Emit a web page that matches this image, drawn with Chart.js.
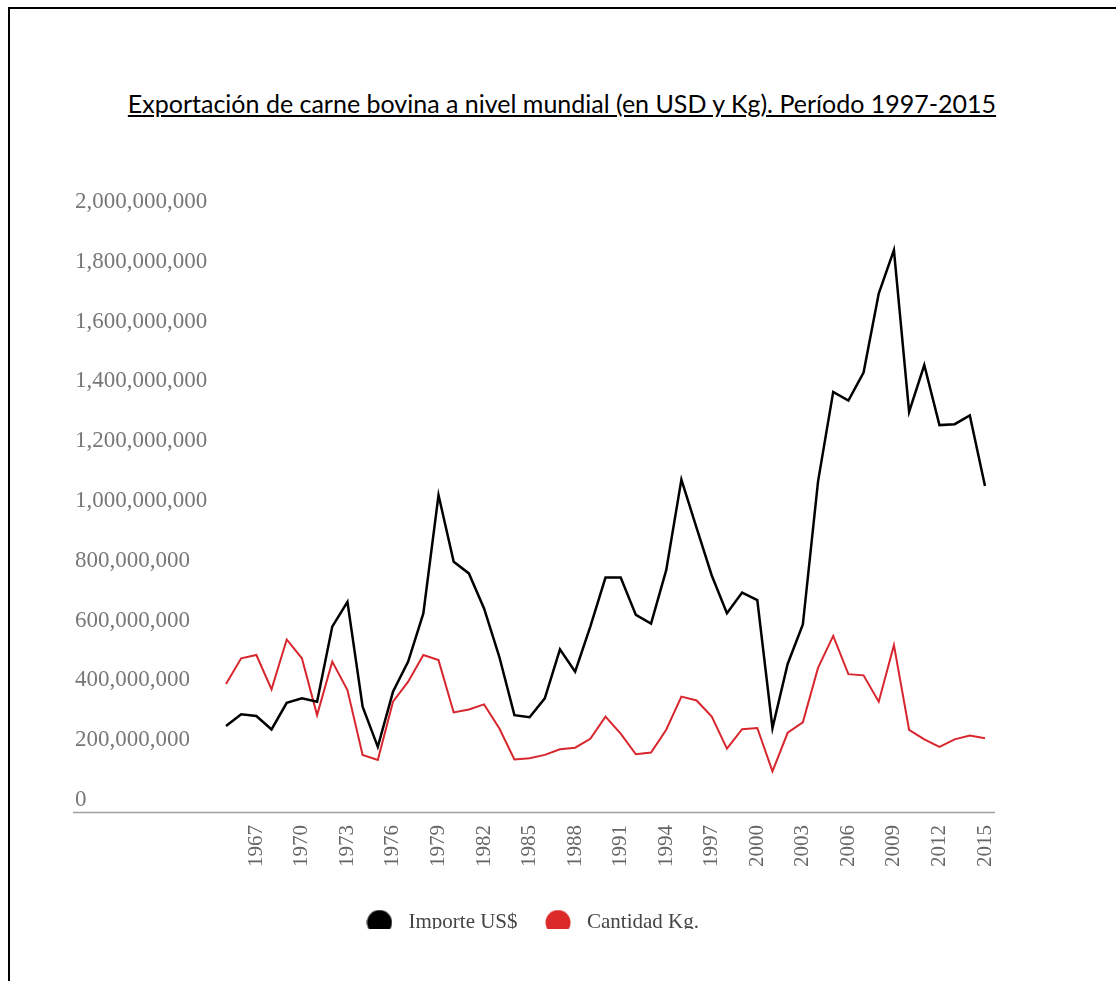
<!DOCTYPE html>
<html>
<head>
<meta charset="utf-8">
<script src="https://cdn.jsdelivr.net/npm/chart.js@4.4.1/dist/chart.umd.min.js"></script>
<style>
  body { margin: 0; background: #fff; width: 1116px; height: 981px; overflow: hidden; position: relative; }
  .frame { position: absolute; left: 8px; top: 7px; width: 1200px; height: 1100px; border-left: 2px solid #000; border-top: 2px solid #000; }
  .titulo { position: absolute; left: 0; top: 87px; width: 1124px; text-align: center; font-family: Lato, sans-serif; font-size: 25px; line-height: 32px; color: #000; text-decoration: underline; }
  .grafico { position: absolute; left: 0; top: 170px; width: 1116px; height: 759px; overflow: hidden; }
</style>
</head>
<body>
<div class="frame"></div>
<div class="titulo">Exportación de carne bovina a nivel mundial (en USD y Kg). Período 1997-2015</div>
<div class="grafico"><canvas id="chart" width="1116" height="800"></canvas></div>
<script>
// años
const anios = [
  '1965','1966','1967','1968','1969','1970','1971','1972','1973','1974',
  '1975','1976','1977','1978','1979','1980','1981','1982','1983','1984',
  '1985','1986','1987','1988','1989','1990','1991','1992','1993','1994',
  '1995','1996','1997','1998','1999','2000','2001','2002','2003','2004',
  '2005','2006','2007','2008','2009','2010','2011','2012','2013','2014','2015'
];

// Importe US$
const importe = [
  288000000, 327000000, 321000000, 276000000, 365000000, 380000000, 369000000, 620000000, 703000000, 352000000,
  218000000, 402000000, 503000000, 664000000, 1060000000, 837000000, 798000000, 681000000, 520000000, 324000000,
  317000000, 380000000, 544000000, 469000000, 620000000, 784000000, 784000000, 659000000, 630000000, 809000000,
  1112000000, 950000000, 791000000, 665000000, 734000000, 709000000, 281000000, 495000000, 627000000, 1105000000,
  1405000000, 1376000000, 1470000000, 1734000000, 1879000000, 1338000000, 1495000000, 1294000000, 1297000000, 1326000000, 1090000000
];

// Cantidad Kg.
const cantidad = [
  428000000, 514000000, 525000000, 410000000, 577000000, 514000000, 324000000, 503000000, 408000000, 191000000,
  174000000, 369000000, 436000000, 525000000, 508000000, 333000000, 343000000, 360000000, 280000000, 176000000,
  180000000, 191000000, 210000000, 215000000, 245000000, 319000000, 262000000, 193000000, 199000000, 275000000,
  386000000, 373000000, 319000000, 212000000, 277000000, 281000000, 136000000, 265000000, 300000000, 482000000,
  589000000, 461000000, 457000000, 369000000, 558000000, 275000000, 243000000, 218000000, 243000000, 256000000, 247000000
];

const yMax = 2000000000;
const yPaso = 200000000;

// circulo para la leyenda
function punto(color) {
  const c = document.createElement('canvas');
  c.width = 26; c.height = 26;
  const g = c.getContext('2d');
  g.fillStyle = color;
  g.beginPath();
  g.arc(13, 13, 12.5, 0, Math.PI * 2);
  g.fill();
  return c;
}

// linea base en el cero
const lineaBase = {
  id: 'lineaBase',
  beforeDatasetsDraw(chart) {
    const { ctx, chartArea, scales } = chart;
    const y = Math.round(scales.y.getPixelForValue(0)) + 0.5;
    ctx.save();
    ctx.strokeStyle = '#a0a0a0';
    ctx.lineWidth = 1.5;
    ctx.beginPath();
    ctx.moveTo(73, y);
    ctx.lineTo(chartArea.right + 10, y);
    ctx.stroke();
    ctx.restore();
  }
};

const serif = "'Liberation Serif', 'Times New Roman', serif";

new Chart(document.getElementById('chart').getContext('2d'), {
  type: 'line',
  data: {
    labels: anios,
    datasets: [
      {
        label: 'Importe US$',
        data: importe,
        borderColor: '#000000',
        backgroundColor: '#000000',
        borderWidth: 2.5,
        pointRadius: 0,
        tension: 0,
        pointStyle: punto('#000000')
      },
      {
        label: 'Cantidad Kg.',
        data: cantidad,
        borderColor: '#d8262e',
        backgroundColor: '#d8262e',
        borderWidth: 2,
        pointRadius: 0,
        tension: 0,
        pointStyle: punto('#dc2a2a')
      }
    ]
  },
  options: {
    responsive: false,
    animation: false,
    layout: { padding: { left: 75, right: 131, top: 44, bottom: 27 } },
    plugins: {
      title: { display: false },
      tooltip: { enabled: false },
      legend: {
        position: 'bottom',
        labels: {
          usePointStyle: true,
          pointStyleWidth: 37,
          boxHeight: 18,
          padding: 22,
          color: '#444',
          font: { family: serif, size: 21 }
        }
      }
    },
    scales: {
      x: {
        grid: { display: false },
        border: { display: false },
        afterFit(scale) { scale.height = 78; },
        ticks: {
          autoSkip: false,
          minRotation: 90,
          maxRotation: 90,
          padding: 5,
          color: '#666',
          font: { family: serif, size: 21 },
          callback(value, index) {
            const a = Number(anios[index]);
            return (a - 1967) % 3 === 0 ? anios[index] : '';
          }
        }
      },
      y: {
        min: 0,
        max: yMax,
        grid: { display: false },
        border: { display: false },
        afterFit(scale) { scale.width = 151; },
        ticks: {
          stepSize: yPaso,
          crossAlign: 'far',
          labelOffset: -12,
          color: '#777',
          font: { family: serif, size: 23 },
          callback(value) { return Number(value).toLocaleString('en-US'); }
        }
      }
    }
  },
  plugins: [lineaBase]
});
</script>
</body>
</html>
